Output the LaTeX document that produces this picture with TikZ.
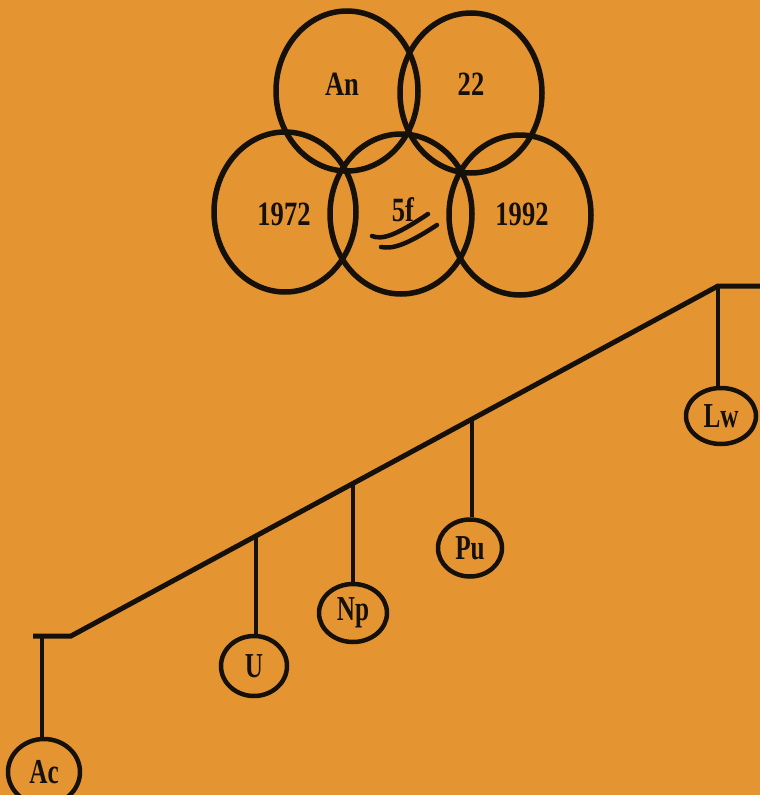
\documentclass[tikz,border=0pt]{standalone}
\usepackage{fontspec}
\setmainfont{Liberation Serif}[FakeStretch=0.78]
\newfontfamily\bubblefont{Liberation Serif}[FakeStretch=0.72]
\usetikzlibrary{shapes.geometric,calc}
\definecolor{paper}{RGB}{228,149,50}
\definecolor{ink}{RGB}{22,16,10}
\tikzset{
  ring/.style={draw=ink, line width=5.5pt, ellipse, inner sep=0pt, minimum width=142pt, minimum height=160pt},
  ringlabel/.style={text=ink, font=\fontsize{34}{34}\selectfont\bfseries},
  bubble/.style={draw=ink, line width=4.5pt, ellipse, inner sep=0pt, text=ink, font=\fontsize{35}{35}\bubblefont\bfseries},
  stair/.style={draw=ink, line width=5pt, line join=miter},
  drop/.style={draw=ink, line width=4pt},
  stroke/.style={draw=ink, line width=4.5pt, line cap=round}
}
\begin{document}
\begin{tikzpicture}[x=1pt,y=-1pt]
\useasboundingbox (0,0) rectangle (760,795);
\clip (0,0) rectangle (760,795);
\fill[paper] (0,0) rectangle (760,795);
% Olympic-style rings
\node[ring] (an) at (347,91) {};
\node[ring] (tt) at (471,93) {};
\node[ring] (y72) at (285,212) {};
\node[ring] (ff) at (401,214) {};
\node[ring] (y92) at (520,215) {};
\node[ringlabel] (anl) at (342,84) {An};
\node[ringlabel] (ttl) at (471,84) {22};
\node[ringlabel] (y72l) at (284,214) {1972};
\node[ringlabel] (ffl) at (403,210) {5f};
\node[ringlabel] (y92l) at (522,214) {1992};
\draw[stroke] (372,236) .. controls (382,240) and (395,236) .. (428,214);
\draw[stroke] (381,247) .. controls (392,249) and (405,246) .. (437,225);
% staircase
\coordinate (s0) at (33,636);
\coordinate (s1) at (71,636);
\coordinate (s2) at (718,286);
\coordinate (s3) at (762,286);
\draw[stair] (s0) -- (s1) -- (s2) -- (s3);
\coordinate (jac) at (42,636);
\coordinate (ju) at ($(s1)!0.28594!(s2)$);
\coordinate (jnp) at ($(s1)!0.43586!(s2)$);
\coordinate (jpu) at ($(s1)!0.61978!(s2)$);
\coordinate (jlw) at (718,286);
% element bubbles
\node[bubble, minimum width=72pt, minimum height=66pt] (ac) at (44,772) {Ac};
\node[bubble, minimum width=66pt, minimum height=60pt] (u) at (254,666) {U};
\node[bubble, minimum width=68pt, minimum height=58pt] (np) at (353,613) {Np};
\node[bubble, minimum width=64pt, minimum height=57pt] (pu) at (470,548) {Pu};
\node[bubble, minimum width=70pt, minimum height=56pt] (lw) at (721,416) {Lw};
\draw[drop] (jac) -- (ac.north -| jac);
\draw[drop] (ju) -- (u.north -| ju);
\draw[drop] (jnp) -- (np.north -| jnp);
\draw[drop] (jpu) -- (pu.north -| jpu);
\draw[drop] (jlw) -- (lw.north -| jlw);
\end{tikzpicture}
\end{document}
